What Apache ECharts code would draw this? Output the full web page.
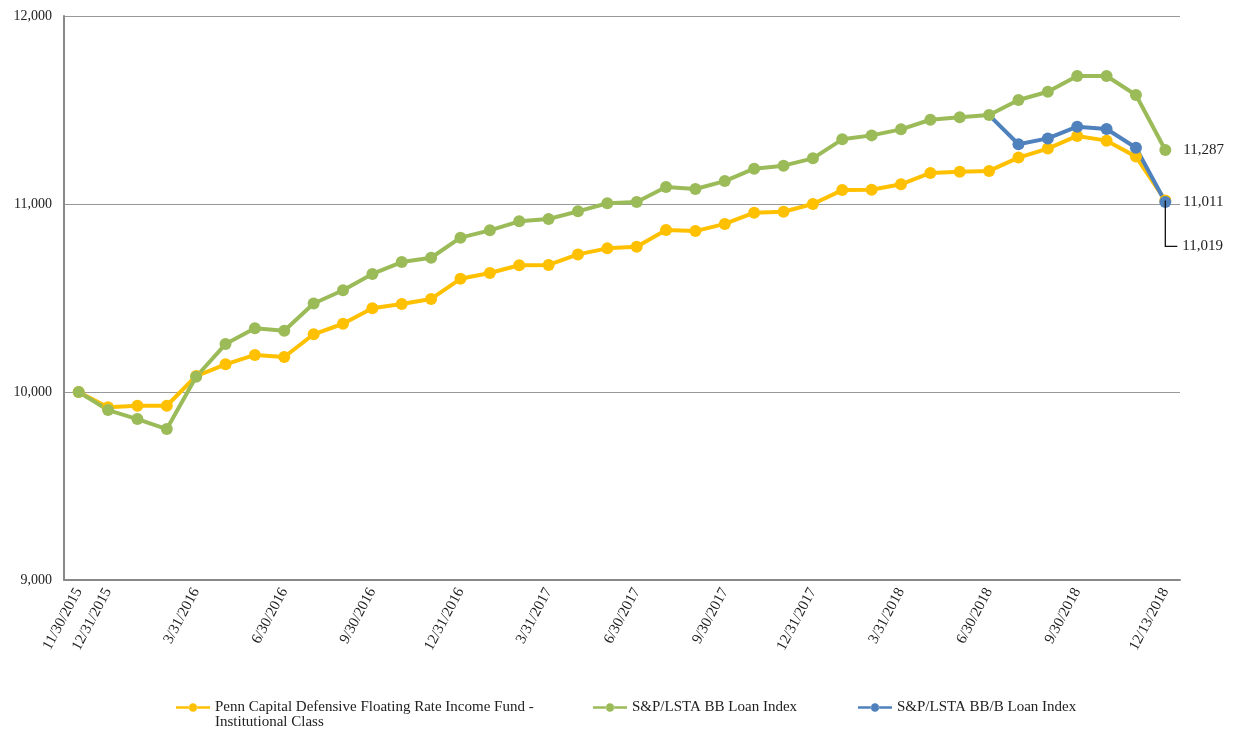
<!DOCTYPE html>
<html>
<head>
<meta charset="utf-8">
<script src="https://cdn.jsdelivr.net/npm/echarts@6/dist/echarts.min.js"></script>
<style>
  html, body { margin: 0; padding: 0; background: #fff; }
  #chart { width: 1233px; height: 730px; }
</style>
</head>
<body>
<div id="chart"></div>
<script>
// Month-end dates plus the final partial-month date
const categories = [
  '11/30/2015', '12/31/2015', '1/31/2016', '2/29/2016', '3/31/2016', '4/30/2016',
  '5/31/2016', '6/30/2016', '7/31/2016', '8/31/2016', '9/30/2016', '10/31/2016',
  '11/30/2016', '12/31/2016', '1/31/2017', '2/28/2017', '3/31/2017', '4/30/2017',
  '5/31/2017', '6/30/2017', '7/31/2017', '8/31/2017', '9/30/2017', '10/31/2017',
  '11/30/2017', '12/31/2017', '1/31/2018', '2/28/2018', '3/31/2018', '4/30/2018',
  '5/31/2018', '6/30/2018', '7/31/2018', '8/31/2018', '9/30/2018', '10/31/2018',
  '11/30/2018', '12/13/2018'
];

// Growth of $10,000
const fundValues = [
  10000, 9919, 9927, 9927, 10085, 10147, 10197, 10186, 10307, 10363, 10445, 10468,
  10495, 10602, 10633, 10674, 10676, 10732, 10764, 10773, 10862, 10856, 10894, 10954,
  10959, 11000, 11074, 11076, 11105, 11165, 11172, 11176, 11247, 11295, 11362, 11337,
  11252, 11019
];
const bbValues = [
  10000, 9904, 9856, 9803, 10081, 10255, 10339, 10326, 10471, 10541, 10628, 10691,
  10714, 10821, 10860, 10908, 10920, 10961, 11004, 11011, 11090, 11080, 11122, 11188,
  11204, 11243, 11344, 11365, 11397, 11448, 11461, 11473, 11553, 11597, 11681, 11681,
  11580, 11287
];
// BB/B index shown from 6/30/2018 onward, starting from the BB index level
const bbbStartIndex = 31;
const bbbValues = [11473, 11318, 11349, 11411, 11399, 11299, 11011];

const yTicks = [9000, 10000, 11000, 12000];
const labelledDates = ['11/30/2015', '12/31/2015', '3/31/2016', '6/30/2016', '9/30/2016',
  '12/31/2016', '3/31/2017', '6/30/2017', '9/30/2017', '12/31/2017', '3/31/2018',
  '6/30/2018', '9/30/2018', '12/13/2018'];

const seriesNames = [
  'Penn Capital Defensive Floating Rate Income Fund -',
  'S&P/LSTA BB Loan Index',
  'S&P/LSTA BB/B Loan Index'
];
const colors = ['#FFC000', '#9BBB59', '#4F81BD'];

const FONT = '"Liberation Serif", "Times New Roman", serif';
const fmt = v => v.toLocaleString('en-US');
const last = categories.length - 1;

const endLabel = {
  show: true, position: 'right', distance: 12,
  formatter: p => fmt(p.value),
  color: '#222', fontFamily: FONT, fontSize: 15
};

const bbData = bbValues.map((v, i) => i === last ? { value: v, label: endLabel } : v);

const bbbData = categories.map((c, i) => {
  if (i < bbbStartIndex) return '-';
  const v = bbbValues[i - bbbStartIndex];
  if (i === bbbStartIndex) return { value: v, symbol: 'none' };
  if (i === last) return { value: v, label: endLabel };
  return v;
});

function lineSeries(name, data, color) {
  return {
    name, type: 'line', data,
    symbol: 'circle', symbolSize: 12,
    lineStyle: { color, width: 4 },
    itemStyle: { color },
    emphasis: { disabled: true },
    animation: false
  };
}

// legend marker: a short line with a dot in the middle
const legendIcon = 'path://M0,3.6h15.5v2.8h-15.5z M24.5,3.6h15.5v2.8h-15.5z M15,5a5,5 0 1,0 10,0a5,5 0 1,0 -10,0z';

const legendBase = {
  top: 695, orient: 'horizontal', icon: legendIcon,
  itemWidth: 34, itemHeight: 9, itemGap: 6,
  textStyle: { fontFamily: FONT, fontSize: 15, color: '#222' }
};

const chart = echarts.init(document.getElementById('chart'), null, { renderer: 'canvas' });
chart.setOption({
  backgroundColor: '#fff',
  animation: false,
  grid: { left: 64, right: 53, top: 16, bottom: 150, containLabel: false },
  legend: [
    Object.assign({}, legendBase, { left: 171, data: [seriesNames[0]] }),
    Object.assign({}, legendBase, { left: 588, data: [seriesNames[1]] }),
    Object.assign({}, legendBase, { left: 853, data: [seriesNames[2]] })
  ],
  graphic: [{
    type: 'text', left: 215, top: 715,
    style: { text: 'Institutional Class', font: '15px ' + FONT, fill: '#222' }
  }],
  xAxis: {
    type: 'category', data: categories, boundaryGap: true,
    axisLine: { lineStyle: { color: '#888', width: 2 } },
    axisTick: { show: false },
    axisLabel: {
      interval: (i, v) => labelledDates.includes(v),
      rotate: 62, margin: 9,
      fontFamily: FONT, fontSize: 15, color: '#222'
    },
    splitLine: { show: false }
  },
  yAxis: {
    type: 'value', min: yTicks[0], max: yTicks[yTicks.length - 1], interval: 1000,
    axisLine: { show: true, lineStyle: { color: '#888', width: 2 } },
    axisTick: { show: false },
    axisLabel: { formatter: v => fmt(v), fontFamily: FONT, fontSize: 14, color: '#222', margin: 12 },
    splitLine: { show: true, lineStyle: { color: '#999', width: 1 } }
  },
  series: [
    lineSeries(seriesNames[0], fundValues, colors[0]),
    lineSeries(seriesNames[1], bbData, colors[1]),
    lineSeries(seriesNames[2], bbbData, colors[2]),
    {
      // leader line and value label for the fund's final point
      type: 'custom', silent: true, z: 5,
      data: [[last, fundValues[last]]],
      renderItem: (params, api) => {
        const p = api.coord([api.value(0), api.value(1)]);
        const drop = 46;
        return {
          type: 'group',
          children: [
            {
              type: 'polyline',
              shape: { points: [[p[0], p[1]], [p[0], p[1] + drop], [p[0] + 12, p[1] + drop]] },
              style: { stroke: '#111', lineWidth: 1.3, fill: null }
            },
            {
              type: 'text',
              style: {
                x: p[0] + 17, y: p[1] + drop, text: fmt(api.value(1)),
                font: '15px ' + FONT, fill: '#222', verticalAlign: 'middle', align: 'left'
              }
            }
          ]
        };
      }
    }
  ]
});
</script>
</body>
</html>
